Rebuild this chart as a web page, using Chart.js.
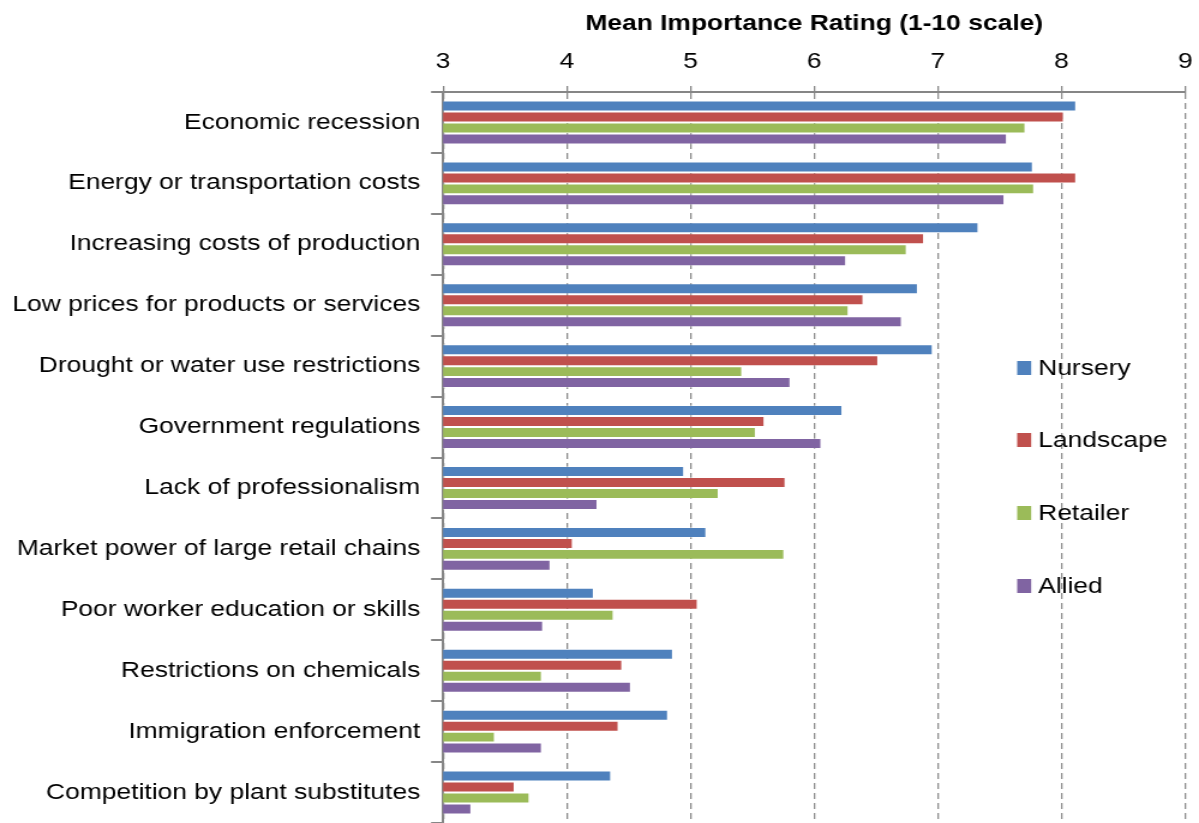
<!DOCTYPE html>
<html>
<head>
<meta charset="utf-8">
<script src="https://cdn.jsdelivr.net/npm/chart.js@4"></script>
<style>
   html, body { margin: 0; padding: 0; background: #fff; overflow: hidden; }
   #ratingChart { display: block; }
</style>
</head>
<body>
<!-- drawn at 999 wide, shown at 1199 wide: the whole chart is stretched sideways -->
<canvas id="ratingChart" width="999" height="823" style="width:1199px;height:823px"></canvas>
<script>
const issues = [
   'Economic recession',
   'Energy or transportation costs',
   'Increasing costs of production',
   'Low prices for products or services',
   'Drought or water use restrictions',
   'Government regulations',
   'Lack of professionalism',
   'Market power of large retail chains',
   'Poor worker education or skills',
   'Restrictions on chemicals',
   'Immigration enforcement',
   'Competition by plant substitutes'
];

const nursery   = [8.12, 7.77, 7.33, 6.84, 6.96, 6.23, 4.95, 5.13, 4.22, 4.86, 4.82, 4.36];
const landscape = [8.02, 8.12, 6.89, 6.40, 6.52, 5.60, 5.77, 4.05, 5.06, 4.45, 4.42, 3.58];
const retailer  = [7.71, 7.78, 6.75, 6.28, 5.42, 5.53, 5.23, 5.76, 4.38, 3.80, 3.42, 3.70];
const allied    = [7.56, 7.54, 6.26, 6.71, 5.81, 6.06, 4.25, 3.87, 3.81, 4.52, 3.80, 3.23];

const xTicks = [3, 4, 5, 6, 7, 8, 9];

const FONT = 'Arial, "Liberation Sans", sans-serif';

function series(label, data, color) {
   return {
      label: label,
      data: data,
      backgroundColor: color,
      borderColor: 'rgba(255,255,255,0.35)',
      borderWidth: 1,
      borderSkipped: 'start',
      barPercentage: 1.0,
      categoryPercentage: 0.72
   };
}

// legend drawn inside the plot, stacked down the right side
const sideLegend = {
   id: 'sideLegend',
   afterDraw(chart) {
      const ctx = chart.ctx;
      const rowY = [368, 440, 513, 586];
      ctx.save();
      ctx.font = '22px ' + FONT;
      ctx.textBaseline = 'middle';
      chart.data.datasets.forEach((ds, i) => {
         ctx.fillStyle = ds.backgroundColor;
         ctx.fillRect(847.5, rowY[i] - 7, 11.7, 14);
         ctx.fillStyle = '#000';
         ctx.fillText(ds.label, 865, rowY[i] + 1);
      });
      ctx.restore();
   }
};

new Chart(document.getElementById('ratingChart'), {
   type: 'bar',
   data: {
      labels: issues,
      datasets: [
         series('Nursery', nursery, '#4F81BD'),
         series('Landscape', landscape, '#C0504D'),
         series('Retailer', retailer, '#9BBB59'),
         series('Allied', allied, '#8064A2')
      ]
   },
   options: {
      indexAxis: 'y',
      responsive: false,
      animation: false,
      layout: { padding: { top: 11, right: 11.5, bottom: 0, left: 0 } },
      scales: {
         x: {
            position: 'top',
            min: 3,
            max: 9,
            afterBuildTicks: axis => {
               axis.ticks = xTicks.map(v => ({ value: v }));
            },
            afterFit: axis => {
               axis.height = 81;
               axis.paddingLeft = 0;
               axis.paddingRight = 0;
            },
            title: {
               display: true,
               text: 'Mean Importance Rating (1-10 scale)',
               color: '#000',
               font: { family: FONT, size: 22, weight: 'bold' },
               padding: { top: 0, bottom: 4 }
            },
            ticks: {
               color: '#000',
               font: { family: FONT, size: 22 },
               padding: 11
            },
            grid: {
               color: '#8c8c8c',
               lineWidth: 1.3,
               tickBorderDash: [],
               tickColor: '#868686',
               tickLength: 6
            },
            border: { display: true, color: '#868686', width: 2, dash: [6, 4] }
         },
         y: {
            afterFit: axis => {
               axis.width = 369.2;
               axis.paddingTop = 0;
               axis.paddingBottom = 0;
            },
            ticks: {
               color: '#000',
               font: { family: FONT, size: 22 },
               padding: 9
            },
            grid: {
               offset: true,
               drawOnChartArea: false,
               tickColor: '#868686',
               tickLength: 10,
               lineWidth: 2
            },
            border: { display: true, color: '#868686', width: 2 }
         }
      },
      plugins: {
         legend: { display: false },
         tooltip: { enabled: false }
      }
   },
   plugins: [sideLegend]
});
</script>
</body>
</html>
